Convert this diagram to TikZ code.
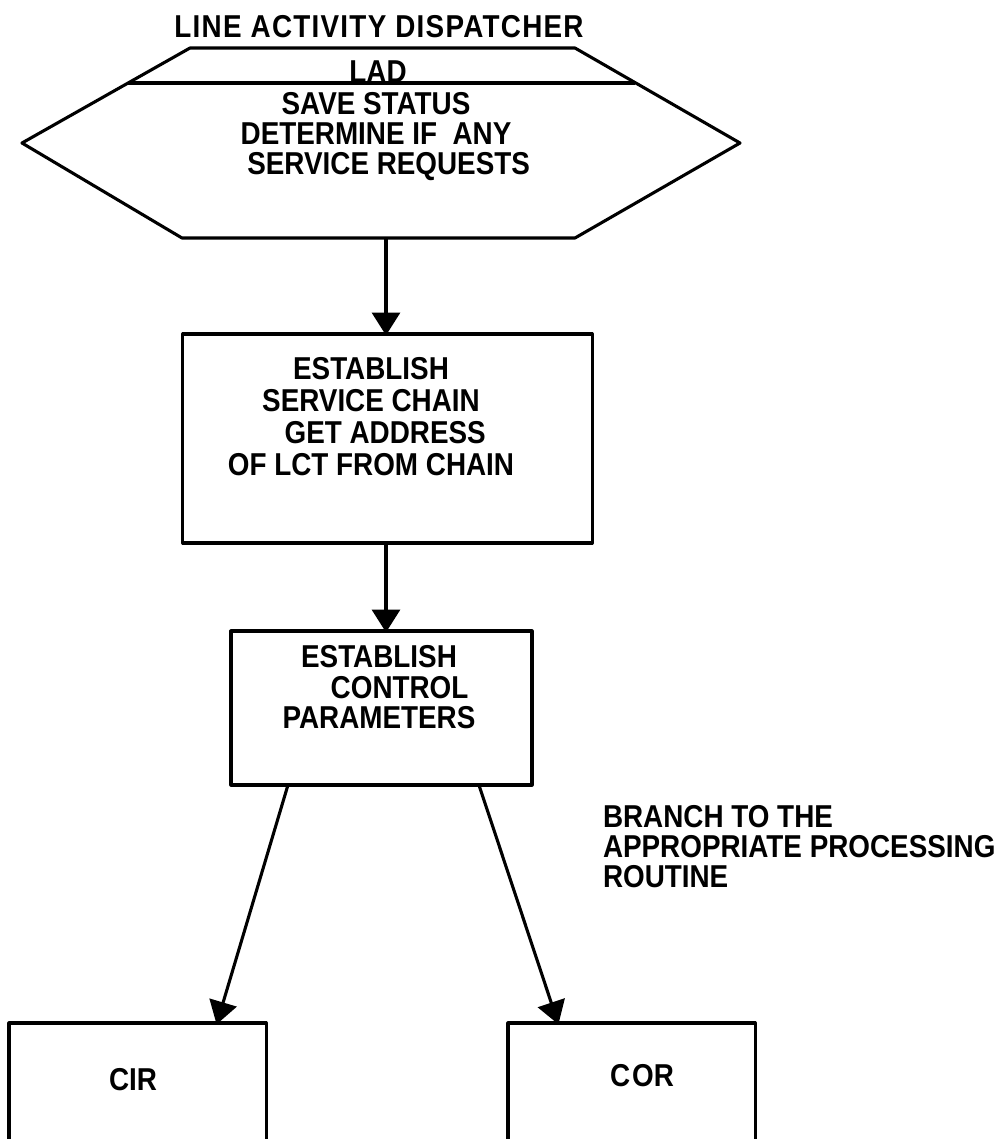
\documentclass[tikz,border=0pt]{standalone}
\usepackage{fontspec}
\setmainfont{Liberation Sans}[FakeStretch=0.88]
\usetikzlibrary{arrows.meta,calc}
\begin{document}
\begin{tikzpicture}[x=0.025cm,y=-0.025cm,
  every node/.style={inner sep=0pt, outer sep=0pt},
  txt/.style={font=\fontsize{22.5}{22}\selectfont\bfseries, align=center},
  ln/.style={line width=2.2pt, line join=round},
  boxnode/.style={draw, ln, rectangle},
  arr/.style={ln, -{Triangle[length=0.57cm, width=0.7cm]}, shorten >=-1pt}
]
\useasboundingbox (0,0) rectangle (1000,1139);
\clip (0,0) rectangle (1000,1139);

% title
\node[txt, anchor=north, font=\fontsize{22.5}{22}\selectfont\bfseries\addfontfeatures{LetterSpace=4}] (title) at (379,15) {LINE ACTIVITY DISPATCHER};

% hexagon
\coordinate (hA) at (190,48);
\coordinate (hB) at (575,48);
\coordinate (hC) at (740,143);
\coordinate (hD) at (575,238);
\coordinate (hE) at (182,238);
\coordinate (hF) at (22,143);
\coordinate (hS1) at (128,83);
\coordinate (hS2) at (635,83);
\coordinate (hbot) at (386,238);
\draw[ln] (hA) -- (hB) -- (hC) -- (hD) -- (hE) -- (hF) -- cycle;
\draw[ln] (hS1) -- (hS2);
\node[txt, anchor=base] (lad) at (378,82) {LAD};
\node[txt, anchor=north, font=\fontsize{22.5}{21.3}\selectfont\bfseries] (hextext) at (376,92)
  {SAVE STATUS\\DETERMINE IF\ \ ANY\\\hspace*{0.8em}SERVICE REQUESTS};

% box 1
\node[boxnode, minimum width=10.225cm, minimum height=5.225cm] (chain) at (387.5,438.5) {};
\node[txt, anchor=north, font=\fontsize{22.5}{22.8}\selectfont\bfseries] (chaintext) at (371,357)
  {ESTABLISH\\SERVICE CHAIN\\\hspace*{0.9em}GET ADDRESS\\OF LCT FROM CHAIN};

% box 2
\node[boxnode, minimum width=7.525cm, minimum height=3.85cm] (ctrl) at (381.5,708) {};
\node[txt, anchor=north] (ctrltext) at (379,645)
  {ESTABLISH\\\hspace*{1.3em}CONTROL\\PARAMETERS};

% bottom boxes (cut by the page edge)
\node[boxnode, minimum width=6.425cm, minimum height=6cm, anchor=north west] (cir) at (9,1023) {};
\node[txt] (cirtxt) at (133,1080) {CIR};
\node[boxnode, minimum width=6.175cm, minimum height=6cm, anchor=north west] (cor) at (508,1023) {};
\node[txt] (cortxt) at (642,1076) {C\kern1.5pt OR};

% label
\node[txt, align=left, anchor=north west, font=\fontsize{22.5}{21.3}\selectfont\bfseries] (branch) at (603,805)
  {BRANCH TO THE\\APPROPRIATE PROCESSING\\ROUTINE};

% connectors
\draw[arr] (hbot) -- (chain.north -| hbot);
\draw[arr] (chain.south -| hbot) -- (ctrl.north -| hbot);
\draw[arr] ($(ctrl.south west)+(57,0)$) -- ($(cir.north west)+(208,0)$);
\draw[arr] ($(ctrl.south west)+(248,0)$) -- ($(cor.north west)+(50,0)$);
\end{tikzpicture}
\end{document}
